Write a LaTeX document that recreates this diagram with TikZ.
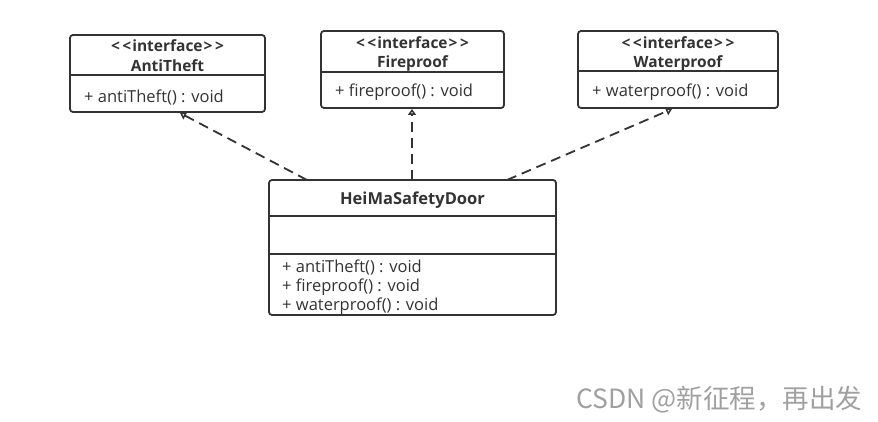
\documentclass[tikz,border=0pt]{standalone}
\usepackage{fontspec}
\setmainfont{Open Sans}
\newfontfamily\cjk{Noto Sans CJK SC}
\usetikzlibrary{arrows.meta}
\definecolor{ink}{HTML}{333333}
\definecolor{wm}{HTML}{A0A0A0}
\newcommand{\ifc}{{<}\kern2.5pt{<}\kern1pt interface\kern1pt{>}\kern2.5pt{>}}
\begin{document}
\begin{tikzpicture}[x=1pt,y=-1pt,
  box/.style={draw=ink,line width=1.8pt,rounded corners=3pt},
  sep/.style={draw=ink,line width=1.8pt},
  hdr/.style={text=ink,font=\fontsize{15.5}{18}\selectfont\bfseries,inner sep=0pt,anchor=center},
  meth/.style={text=ink,font=\fontsize{16.5}{18}\selectfont,inner sep=0pt,anchor=west},
  real/.style={draw=ink,line width=1.8pt,dash pattern=on 10pt off 6pt,-{Triangle[open,length=6pt,width=8pt]}}]
\useasboundingbox (0,0) rectangle (878,422);
% AntiTheft
\draw[box] (70,35) rectangle (265,112);
\draw[sep] (70,75) -- (265,75);
\node[hdr] (a1) at (167.5,46) {\ifc};
\node[hdr] (a2) at (167.5,66) {AntiTheft};
\node[meth] (a3) at (84,97) {+ antiTheft() : void};
\coordinate (aB) at (180,113);
% Fireproof
\draw[box] (321,31) rectangle (504,108);
\draw[sep] (321,72) -- (504,72);
\node[hdr] (f1) at (412.5,43) {\ifc};
\node[hdr] (f2) at (412.5,63) {Fireproof};
\node[meth] (f3) at (335,92) {+ fireproof() : void};
\coordinate (fB) at (412,109);
% Waterproof
\draw[box] (578,31) rectangle (778,108);
\draw[sep] (578,71) -- (778,71);
\node[hdr] (w1) at (678,43) {\ifc};
\node[hdr] (w2) at (678,63) {Waterproof};
\node[meth] (w3) at (592,92) {+ waterproof() : void};
\coordinate (wB) at (672,109);
% Door
\draw[box] (269,180) rectangle (556,315);
\draw[sep] (269,216) -- (556,216);
\draw[sep] (269,254) -- (556,254);
\node[hdr,font=\fontsize{16.5}{18}\selectfont\bfseries] (d1) at (412.5,200) {HeiMaSafetyDoor};
\node[meth] (d2) at (282,267) {+ antiTheft() : void};
\node[meth] (d3) at (282,287) {+ fireproof() : void};
\node[meth] (d4) at (282,306) {+ waterproof() : void};
\coordinate (dA) at (307,180);
\coordinate (dF) at (412,180);
\coordinate (dW) at (507,180);
% connectors
\draw[real] (dA) -- (aB);
\draw[real] (dF) -- (fB);
\draw[real] (dW) -- (wB);
% watermark
\node[text=wm,font=\cjk\fontsize{26.5}{30}\selectfont,anchor=west,inner sep=0pt] (wmk) at (576,400) {CSDN @新征程，再出发};
\end{tikzpicture}
\end{document}
